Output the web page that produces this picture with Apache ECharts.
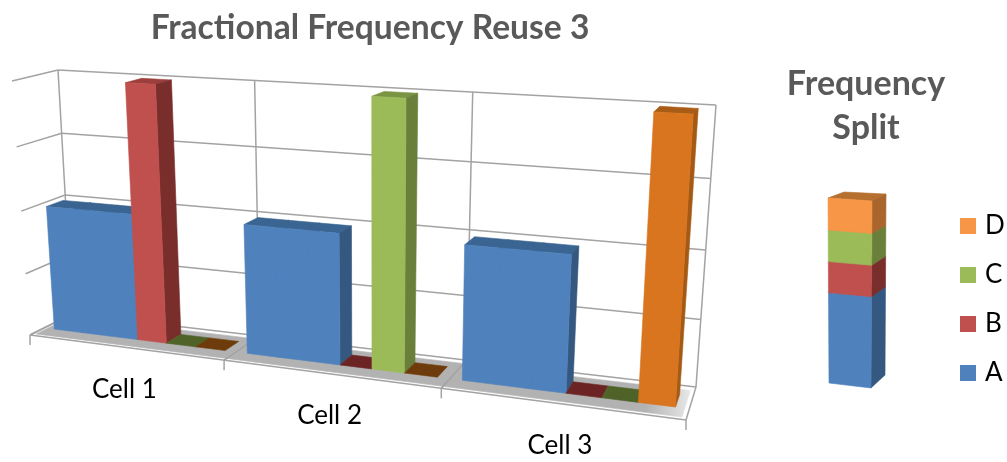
<!DOCTYPE html>
<html>
<head>
<meta charset="utf-8">
<style>html,body{margin:0;padding:0;background:#fff}#chart{width:1007px;height:462px}</style>
<script src="https://cdn.jsdelivr.net/npm/echarts@6/dist/echarts.min.js"></script>
</head>
<body>
<div id="chart"></div>
<script>
// data
var cells = ['Cell 1', 'Cell 2', 'Cell 3'];
var slots = ['A', 'A', 'A', 'B', 'C', 'D', 'A', 'A', 'A', 'B', 'C', 'D', 'A', 'A', 'A', 'B', 'C', 'D'];
var valuesA = [0.5, 0.5, 0.5, null, null, null, 0.5, 0.5, 0.5, null, null, null, 0.5, 0.5, 0.5, null, null, null];
var valuesB = [null, null, null, 1, null, null, null, null, null, 0, null, null, null, null, null, 0, null, null];
var valuesC = [null, null, null, null, 0, null, null, null, null, null, 1, null, null, null, null, null, 0, null];
var valuesD = [null, null, null, null, null, 0, null, null, null, null, null, 0, null, null, null, null, null, 1];
var yTicks = [0, 0.25, 0.5, 0.75, 1];
var splitNames = ['A', 'B', 'C', 'D'];
var splitValues = [3, 1, 1, 1];

var chart = echarts.init(document.getElementById('chart'));

// unit square -> quad (p0 bottom left, p1 bottom right, p2 top right, p3 top left)
function makeQuad(p) {
	var dx1 = p[1][0] - p[2][0], dx2 = p[3][0] - p[2][0], sx = p[0][0] - p[1][0] + p[2][0] - p[3][0];
	var dy1 = p[1][1] - p[2][1], dy2 = p[3][1] - p[2][1], sy = p[0][1] - p[1][1] + p[2][1] - p[3][1];
	var den = dx1 * dy2 - dx2 * dy1;
	var g = (sx * dy2 - dx2 * sy) / den, h = (dx1 * sy - sx * dy1) / den;
	var a = p[1][0] - p[0][0] + g * p[1][0], b = p[3][0] - p[0][0] + h * p[3][0];
	var d = p[1][1] - p[0][1] + g * p[1][1], e = p[3][1] - p[0][1] + h * p[3][1];
	return function (u, v) {
		var q = g * u + h * v + 1;
		return [(a * u + b * v + p[0][0]) / q, (d * u + e * v + p[0][1]) / q];
	};
}
// w=0 is the front face of the box, w=1 the back wall
function makeBox(front, back) {
	var f = makeQuad(front), b = makeQuad(back);
	return function (u, v, w) {
		var p = f(u, v), q = b(u, v);
		return [p[0] + (q[0] - p[0]) * w, p[1] + (q[1] - p[1]) * w];
	};
}
var mainBox = makeBox(
	[[30, 335], [686, 420], [704, 120], [12, 81]],
	[[72, 314], [696, 387], [716, 105], [58, 70]]
);
var splitBox = makeBox(
	[[829, 383], [871, 388], [872, 201], [828, 198]],
	[[845, 370], [885, 375], [886, 194], [844, 192]]
);

function poly(points, fill) {
	return {
		type: 'polygon', silent: true, shape: { points: points },
		style: { fill: fill, stroke: fill, lineWidth: 0.6 }
	};
}
function line(a, b, color, width) {
	return {
		type: 'line', silent: true,
		shape: { x1: a[0], y1: a[1], x2: b[0], y2: b[1] },
		style: { stroke: color || '#a3a3a3', lineWidth: width || 1.5 }
	};
}

var W0 = 0.34, W1 = 0.72;
// gap left inside a cell on both sides of its six slots
var CELL_MARGIN = 0.055;
function squeeze(u) {
	var n = cells.length;
	var k = Math.min(Math.floor(u * n + 1e-6), n - 1);
	var t = u * n - k;
	return (k + CELL_MARGIN + t * (1 - 2 * CELL_MARGIN)) / n;
}
function renderBar(colors) {
	return function (params, api) {
		var cs = params.coordSys;
		var top = api.coord([api.value(0), api.value(1)]);
		var bw = api.size([1, 0])[0];
		var idx = api.value(0);
		var cellEnd = (idx % 6 === 5);
		var uL = squeeze((top[0] - bw / 2 - cs.x) / cs.width);
		var uR = cellEnd ? (Math.floor(idx / 6) + 1 - CELL_MARGIN) / cells.length : squeeze((top[0] + bw / 2 - cs.x) / cs.width);
		var v = 1 - (top[1] - cs.y) / cs.height;
		var topFace = poly([mainBox(uL, v, W0), mainBox(uR, v, W0), mainBox(uR, v, W1), mainBox(uL, v, W1)],
			v === 0 ? colors.flat : colors.top);
		if (v === 0) return topFace;
		return {
			type: 'group',
			children: [
				topFace,
				poly([mainBox(uR, 0, W0), mainBox(uR, 0, W1), mainBox(uR, v, W1), mainBox(uR, v, W0)], colors.side),
				poly([mainBox(uL, 0, W0), mainBox(uR, 0, W0), mainBox(uR, v, W0), mainBox(uL, v, W0)], colors.front)
			]
		};
	};
}
function barSeries(name, values, colors) {
	var rows = [];
	values.forEach(function (v, i) {
		if (v !== null) rows.push([i, v]);
	});
	return {
		name: name, type: 'custom', xAxisIndex: 0, yAxisIndex: 0, z: 5,
		itemStyle: { color: colors.front },
		renderItem: renderBar(colors), data: rows
	};
}

var barColors = {
	A: { front: '#4f81bd', side: '#34587f', top: '#3a6491', flat: '#3a6491' },
	B: { front: '#c0504d', side: '#7a2e2c', top: '#9c3f3c', flat: '#6b2423' },
	C: { front: '#9bbb59', side: '#6a7f39', top: '#7a9443', flat: '#4f6228' },
	D: { front: '#d9741f', side: '#a45a14', top: '#a85c16', flat: '#6e3c0c' }
};
var splitColors = {
	A: { front: '#4f81bd', side: '#34587f', top: '#3a6491' },
	B: { front: '#c0504d', side: '#7a2e2c', top: '#9c3f3c' },
	C: { front: '#9bbb59', side: '#6a7f39', top: '#7a9443' },
	D: { front: '#f79646', side: '#a9652b', top: '#b5702f' }
};

// walls: one row per y tick
var wallSeries = {
	type: 'custom', xAxisIndex: 0, yAxisIndex: 0, z: 1,
	data: yTicks.map(function (t) { return [0, t]; }),
	renderItem: function (params, api) {
		var cs = params.coordSys;
		var v = 1 - (api.coord([0, api.value(1)])[1] - cs.y) / cs.height;
		return {
			type: 'group',
			children: [
				line(mainBox(0, v, 0), mainBox(0, v, 1)),
				line(mainBox(0, v, 1), mainBox(1, v, 1))
			]
		};
	}
};
// back wall verticals, floor lines and tick marks: one row per cell boundary
var floorSeries = {
	type: 'custom', xAxisIndex: 0, yAxisIndex: 0, z: 2,
	data: [0, 1, 2, 3],
	renderItem: function (params, api) {
		var u = api.value(0) / cells.length;
		var f = mainBox(u, 0, 0);
		return {
			type: 'group',
			children: [
				line(mainBox(u, 1, 1), mainBox(u, 0, 1)),
				line(f, mainBox(u, 0, 1)),
				line(f, [f[0], f[1] + 10])
			]
		};
	}
};
var slabSeries = {
	type: 'custom', xAxisIndex: 0, yAxisIndex: 0, z: 3,
	data: [0],
	renderItem: function () {
		var grey = new echarts.graphic.LinearGradient(0, 0, 1, 0, [
			{ offset: 0, color: '#b2b2b2' },
			{ offset: 0.93, color: '#b2b2b2' },
			{ offset: 1, color: '#e8e8e8' }
		]);
		return {
			type: 'group',
			children: [
				poly([mainBox(0.006, 0, 0.07), mainBox(0.994, 0, 0.07), mainBox(0.994, 0, 0.88), mainBox(0.006, 0, 0.88)], grey),
				line(mainBox(0, 0, 0), mainBox(1, 0, 0)),
				line(mainBox(1 / 3, 0, 0), mainBox(1 / 3, 0, 1)),
				line(mainBox(2 / 3, 0, 0), mainBox(2 / 3, 0, 1))
			]
		};
	}
};
var labelSeries = {
	type: 'custom', xAxisIndex: 0, yAxisIndex: 0, z: 6,
	data: cells.map(function (c, i) { return [i * 6 + 2, 0]; }),
	renderItem: function (params, api) {
		var cs = params.coordSys;
		var c = api.coord([api.value(0), 0]);
		var bw = api.size([1, 0])[0];
		var p = mainBox((c[0] + bw / 2 - cs.x) / cs.width, 0, 0);
		return {
			type: 'text', silent: true, x: p[0], y: p[1] + 42,
			style: {
				text: cells[params.dataIndex], fill: '#000', align: 'center', verticalAlign: 'middle',
				font: '26px Lato'
			}
		};
	}
};
// stacked frequency split column
var splitSeries = {
	type: 'custom', xAxisIndex: 1, yAxisIndex: 1, z: 5,
	data: splitValues.map(function (v, i) {
		var base = 0;
		for (var k = 0; k < i; k++) base += splitValues[k];
		return [0, base, base + v];
	}),
	encode: { x: 0, y: [1, 2] },
	renderItem: function (params, api) {
		var cs = params.coordSys;
		var colors = splitColors[splitNames[params.dataIndex]];
		var v0 = 1 - (api.coord([0, api.value(1)])[1] - cs.y) / cs.height;
		var v1 = 1 - (api.coord([0, api.value(2)])[1] - cs.y) / cs.height;
		return {
			type: 'group',
			children: [
				poly([splitBox(0, v1, 0), splitBox(1, v1, 0), splitBox(1, v1, 1), splitBox(0, v1, 1)], colors.top),
				poly([splitBox(1, v0, 0), splitBox(1, v0, 1), splitBox(1, v1, 1), splitBox(1, v1, 0)], colors.side),
				poly([splitBox(0, v0, 0), splitBox(1, v0, 0), splitBox(1, v1, 0), splitBox(0, v1, 0)], colors.front)
			]
		};
	}
};

var option = {
	animation: false,
	backgroundColor: '#fff',
	title: [
		{
			text: 'Fractional Frequency Reuse 3', left: 365, top: 6, textAlign: 'center',
			textStyle: { fontFamily: 'Lato', fontWeight: 'bold', fontSize: 33.6, color: '#595959' }
		},
		{
			text: 'Frequency\nSplit', left: 861, top: 57, textAlign: 'center',
			textStyle: { fontFamily: 'Lato', fontWeight: 'bold', fontSize: 34, color: '#595959', lineHeight: 44, align: 'center' }
		}
	],
	legend: {
		orient: 'vertical', left: 960, top: 213, padding: 0,
		icon: 'rect', itemWidth: 16, itemHeight: 16, itemGap: 23, itemStyle: { borderWidth: 0 },
		selectedMode: false,
		textStyle: { fontFamily: 'Lato', fontSize: 26, color: '#000', padding: [0, 0, 0, 4], lineHeight: 24 },
		data: [
			{ name: 'D', itemStyle: { color: '#f79646' } },
			{ name: 'C', itemStyle: { color: '#9bbb59' } },
			{ name: 'B', itemStyle: { color: '#c0504d' } },
			{ name: 'A', itemStyle: { color: '#4f81bd' } }
		]
	},
	grid: [
		{ left: 0, right: 0, top: 0, bottom: 0 },
		{ left: 0, right: 0, top: 0, bottom: 0 }
	],
	xAxis: [
		{ type: 'category', gridIndex: 0, data: slots, show: false },
		{ type: 'category', gridIndex: 1, data: ['Split'], show: false }
	],
	yAxis: [
		{ type: 'value', gridIndex: 0, min: 0, max: 1, interval: 0.25, show: false },
		{ type: 'value', gridIndex: 1, min: 0, max: 6, show: false }
	],
	series: [
		wallSeries, floorSeries, slabSeries,
		barSeries('A', valuesA, barColors.A),
		barSeries('B', valuesB, barColors.B),
		barSeries('C', valuesC, barColors.C),
		barSeries('D', valuesD, barColors.D),
		labelSeries, splitSeries
	]
};
chart.setOption(option);
</script>
</body>
</html>
